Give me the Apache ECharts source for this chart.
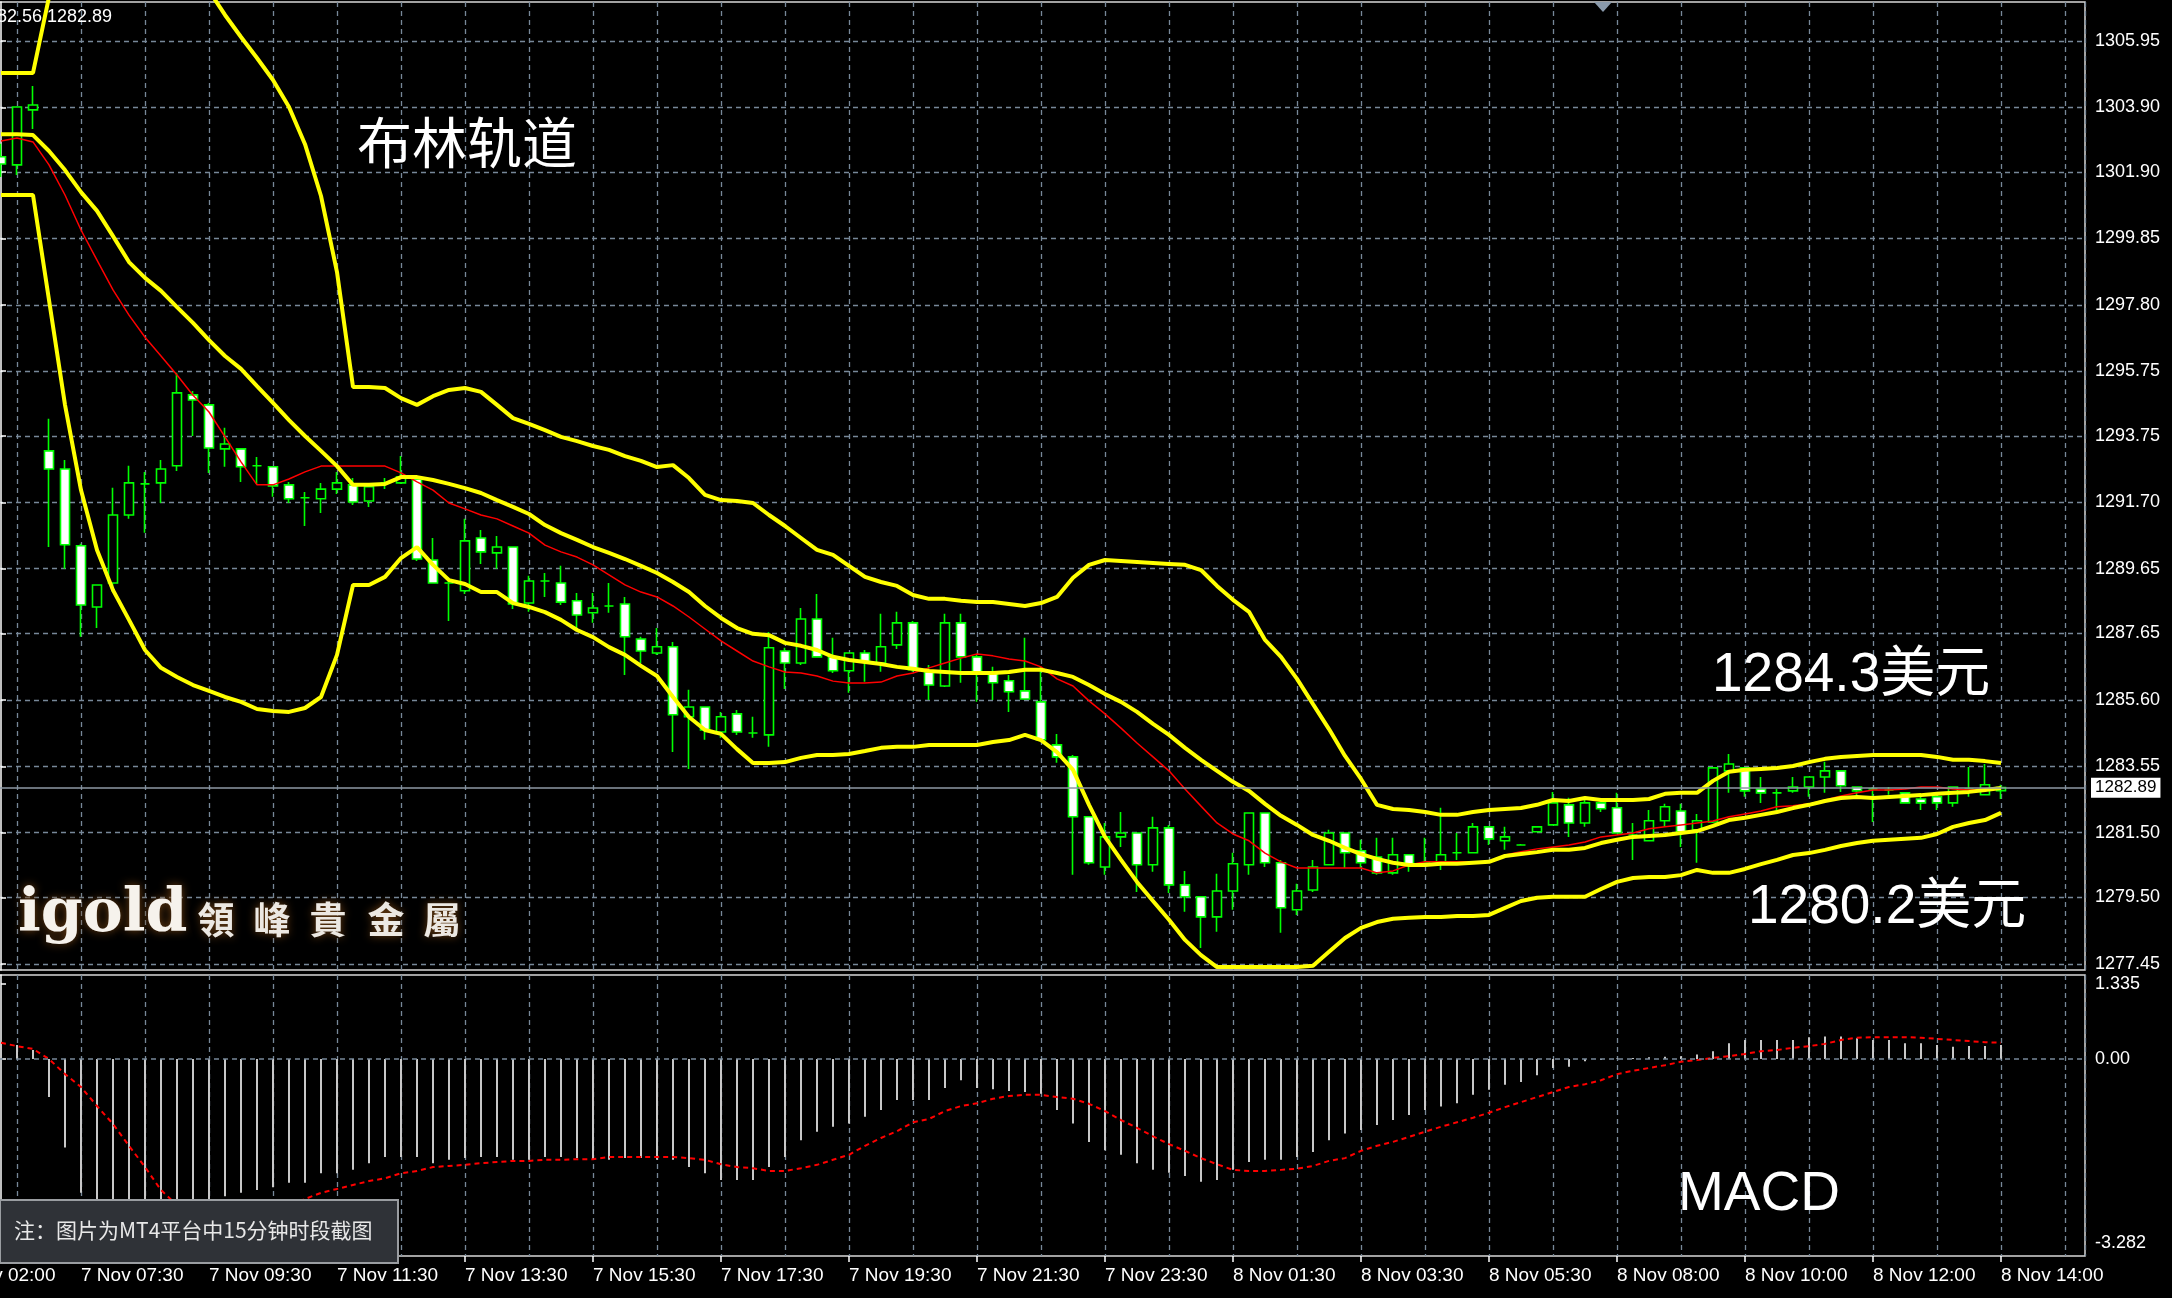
<!DOCTYPE html>
<html><head><meta charset="utf-8">
<script src="https://cdn.jsdelivr.net/npm/echarts@6/dist/echarts.min.js"></script>
<style>html,body{margin:0;padding:0;background:#000;overflow:hidden}#c{width:2172px;height:1298px}</style>
</head><body><div id="c"></div>
<script>
// ---- price bars (15-minute candles), index 0..125 ----
const opens = [
1302.37,1302.12,1303.82,1293.29,1292.73,1290.36,1288.47,1289.21,1291.31,1292.27,
1292.30,1292.83,1295.02,1294.71,1293.35,1293.35,1292.83,1292.80,1292.24,1291.84,
1291.81,1292.11,1292.24,1291.74,1292.30,1292.30,1292.42,1289.92,1289.21,1288.97,
1290.60,1290.14,1290.32,1288.59,1289.27,1289.21,1288.66,1288.29,1288.50,1288.56,
1287.48,1287.05,1287.24,1285.08,1285.38,1284.61,1285.17,1284.58,1284.52,1287.11,
1286.74,1288.10,1286.93,1286.50,1287.05,1286.74,1287.30,1287.98,1286.47,1286.03,
1287.98,1286.93,1286.43,1286.19,1285.88,1285.54,1284.21,1283.84,1281.99,1280.44,
1281.37,1281.49,1280.51,1281.65,1279.89,1279.52,1278.90,1279.70,1280.51,1282.11,
1280.57,1279.12,1279.73,1280.51,1281.49,1280.94,1280.75,1280.26,1280.82,1280.54,
1280.60,1280.88,1280.88,1281.68,1281.25,1281.12,1281.53,1281.74,1282.36,1281.80,
1282.42,1282.27,1281.43,1281.25,1281.87,1282.17,1281.59,1281.83,1283.41,1283.50,
1282.85,1282.73,1282.79,1282.91,1283.22,1283.41,1282.91,1282.85,1282.82,1282.73,
1282.54,1282.61,1282.42,1282.85,1282.67,1282.80];
const closes = [
1302.15,1303.91,1303.97,1292.73,1290.39,1288.53,1289.15,1291.31,1292.30,1292.27,
1292.73,1295.08,1294.86,1293.38,1293.50,1292.80,1292.83,1292.21,1291.81,1291.84,
1292.11,1292.30,1291.71,1292.18,1292.30,1292.49,1289.95,1289.21,1289.21,1290.51,
1290.17,1290.32,1288.56,1289.27,1289.27,1288.62,1288.22,1288.44,1288.50,1287.55,
1287.11,1287.24,1285.14,1285.38,1284.67,1285.08,1284.61,1284.58,1287.21,1286.74,
1288.10,1286.93,1286.50,1287.05,1286.77,1287.24,1287.98,1286.53,1286.06,1287.98,
1286.93,1286.43,1286.13,1285.85,1285.63,1284.37,1283.84,1281.99,1280.57,1281.37,
1281.49,1280.51,1281.65,1279.89,1279.52,1278.90,1279.70,1280.54,1282.11,1280.57,
1279.18,1279.70,1280.44,1281.49,1280.88,1280.57,1280.26,1280.82,1280.51,1280.57,
1280.82,1280.88,1281.68,1281.31,1281.37,1281.12,1281.68,1282.42,1281.80,1282.42,
1282.24,1281.49,1281.43,1281.87,1282.30,1281.53,1281.87,1283.50,1283.62,1282.79,
1282.73,1282.73,1282.91,1283.22,1283.41,1282.95,1282.79,1282.85,1282.82,1282.42,
1282.42,1282.42,1282.91,1282.85,1282.98,1282.89];
const highs = [
1302.77,1303.91,1304.56,1294.28,1293.01,1290.42,1289.15,1292.15,1292.83,1292.64,
1293.01,1295.70,1295.14,1294.77,1294.00,1293.35,1293.10,1292.80,1292.33,1292.02,
1292.30,1292.64,1292.45,1292.30,1292.45,1293.13,1292.52,1290.60,1289.37,1291.19,
1290.85,1290.66,1290.32,1289.43,1289.52,1289.74,1288.90,1288.90,1289.21,1288.78,
1287.55,1287.82,1287.39,1285.91,1285.38,1285.23,1285.29,1285.08,1287.70,1287.21,
1288.44,1288.87,1287.52,1287.05,1287.14,1288.26,1288.32,1288.04,1286.68,1288.26,
1288.26,1286.99,1286.62,1286.37,1287.52,1286.62,1284.55,1283.90,1281.99,1281.80,
1282.14,1281.49,1281.99,1281.74,1280.32,1279.52,1280.23,1280.88,1282.11,1282.11,
1280.66,1279.92,1280.66,1281.59,1281.49,1281.28,1281.34,1281.34,1280.82,1281.34,
1282.27,1281.49,1281.80,1281.71,1281.68,1281.15,1281.68,1282.76,1282.58,1282.51,
1282.42,1282.73,1281.80,1282.20,1282.39,1282.39,1282.08,1283.50,1283.93,1283.50,
1283.22,1282.85,1283.22,1283.22,1283.69,1283.41,1282.91,1282.91,1282.91,1282.73,
1282.61,1282.73,1282.91,1283.53,1283.62,1282.98];
const lows = [
1301.75,1301.81,1303.23,1290.32,1289.65,1287.55,1287.82,1288.93,1291.19,1290.76,
1291.68,1292.67,1293.75,1292.61,1292.80,1292.33,1292.27,1291.87,1291.68,1290.97,
1291.37,1291.96,1291.62,1291.56,1292.11,1292.27,1289.89,1289.21,1288.04,1288.87,
1289.80,1289.65,1288.41,1288.32,1288.78,1288.53,1287.73,1287.98,1288.29,1286.37,
1286.74,1286.99,1283.99,1283.47,1284.37,1284.43,1284.52,1284.43,1284.15,1285.94,
1286.68,1286.93,1286.43,1285.82,1286.16,1286.47,1287.17,1286.47,1285.60,1286.00,
1286.13,1285.54,1285.60,1285.23,1285.63,1284.37,1283.66,1280.20,1280.51,1280.20,
1281.06,1279.67,1280.29,1279.64,1279.06,1277.94,1278.44,1279.12,1280.20,1280.44,
1278.41,1278.96,1279.67,1280.51,1280.41,1280.41,1280.20,1280.20,1280.29,1280.51,
1280.35,1280.66,1280.88,1281.12,1280.97,1281.12,1281.53,1281.74,1281.37,1281.68,
1282.14,1281.49,1280.66,1281.25,1281.68,1281.06,1280.57,1281.80,1282.73,1282.61,
1282.42,1282.14,1282.73,1282.61,1282.73,1282.76,1282.61,1281.83,1282.67,1282.39,
1282.20,1282.20,1282.30,1282.61,1282.67,1282.54];

// ---- Bollinger bands (yellow) and moving average (red) ----
const upperBand = [
1304.96,1304.96,1304.96,1307.3,1309.2,1310.5,1311.2,1310.9,1310.2,1310.1,
1309.9,1309.2,1308.4,1307.5,1306.75,1306.07,1305.42,1304.74,1303.91,1302.76,
1301.16,1298.81,1295.26,1295.26,1295.23,1294.92,1294.71,1294.98,1295.17,1295.23,
1295.11,1294.71,1294.30,1294.12,1293.93,1293.72,1293.59,1293.44,1293.32,1293.13,
1292.98,1292.79,1292.85,1292.45,1291.93,1291.77,1291.74,1291.68,1291.31,1290.97,
1290.60,1290.23,1290.08,1289.74,1289.40,1289.24,1289.12,1288.84,1288.72,1288.72,
1288.66,1288.62,1288.62,1288.56,1288.50,1288.59,1288.78,1289.37,1289.77,1289.92,
1289.89,1289.86,1289.83,1289.80,1289.77,1289.61,1289.12,1288.69,1288.32,1287.45,
1286.93,1286.25,1285.47,1284.70,1283.87,1283.16,1282.36,1282.23,1282.20,1282.14,
1282.05,1282.05,1282.14,1282.20,1282.23,1282.26,1282.36,1282.51,1282.48,1282.57,
1282.51,1282.51,1282.51,1282.54,1282.70,1282.73,1282.73,1283.10,1283.38,1283.44,
1283.47,1283.50,1283.56,1283.68,1283.78,1283.84,1283.87,1283.90,1283.90,1283.90,
1283.90,1283.84,1283.75,1283.75,1283.71,1283.65];
const middleBand = [
1303.07,1303.07,1303.04,1302.55,1301.96,1301.28,1300.70,1299.92,1299.12,1298.63,
1298.23,1297.73,1297.24,1296.71,1296.22,1295.82,1295.29,1294.77,1294.24,1293.75,
1293.29,1292.82,1292.24,1292.24,1292.27,1292.48,1292.48,1292.39,1292.27,1292.14,
1291.99,1291.77,1291.56,1291.34,1291.00,1290.75,1290.54,1290.32,1290.14,1289.95,
1289.74,1289.52,1289.24,1288.93,1288.50,1288.13,1287.82,1287.64,1287.60,1287.36,
1287.27,1287.14,1286.93,1286.83,1286.77,1286.71,1286.62,1286.56,1286.49,1286.46,
1286.43,1286.43,1286.43,1286.46,1286.53,1286.53,1286.43,1286.31,1286.06,1285.78,
1285.54,1285.23,1284.86,1284.52,1284.12,1283.75,1283.41,1283.07,1282.79,1282.39,
1282.02,1281.74,1281.43,1281.25,1281.03,1280.84,1280.69,1280.57,1280.50,1280.50,
1280.54,1280.54,1280.57,1280.60,1280.78,1280.84,1280.90,1280.97,1280.97,1281.03,
1281.18,1281.28,1281.37,1281.40,1281.43,1281.49,1281.55,1281.71,1281.89,1281.96,
1282.05,1282.14,1282.26,1282.36,1282.48,1282.57,1282.60,1282.57,1282.60,1282.63,
1282.66,1282.70,1282.73,1282.76,1282.82,1282.88];
const lowerBand = [
1301.19,1301.19,1301.19,1297.95,1294.71,1292.08,1290.23,1288.99,1288.07,1287.14,
1286.59,1286.31,1286.06,1285.88,1285.69,1285.54,1285.32,1285.26,1285.23,1285.35,
1285.69,1286.99,1289.15,1289.15,1289.40,1289.98,1290.32,1289.77,1289.30,1289.18,
1288.93,1288.93,1288.59,1288.47,1288.31,1288.07,1287.76,1287.54,1287.23,1286.99,
1286.65,1286.34,1285.69,1285.07,1284.67,1284.55,1284.08,1283.65,1283.65,1283.68,
1283.81,1283.90,1283.90,1283.93,1284.02,1284.12,1284.15,1284.15,1284.21,1284.21,
1284.21,1284.21,1284.30,1284.36,1284.52,1284.36,1283.99,1283.44,1282.36,1281.37,
1280.66,1279.98,1279.39,1278.81,1278.19,1277.72,1277.35,1277.35,1277.35,1277.35,
1277.35,1277.35,1277.39,1277.82,1278.25,1278.56,1278.74,1278.84,1278.87,1278.90,
1278.90,1278.93,1278.93,1278.96,1279.18,1279.39,1279.49,1279.52,1279.52,1279.52,
1279.76,1279.98,1280.10,1280.13,1280.13,1280.19,1280.35,1280.26,1280.26,1280.38,
1280.53,1280.66,1280.81,1280.87,1280.97,1281.09,1281.18,1281.25,1281.28,1281.31,
1281.34,1281.46,1281.68,1281.80,1281.89,1282.11];
const movingAvg = [
1302.86,1302.95,1302.83,1302.12,1301.19,1300.11,1299.18,1298.26,1297.48,1296.80,
1296.22,1295.63,1295.01,1294.49,1293.72,1292.95,1292.24,1292.24,1292.42,1292.64,
1292.82,1292.82,1292.82,1292.82,1292.82,1292.61,1292.33,1292.08,1291.68,1291.50,
1291.31,1291.19,1290.97,1290.75,1290.38,1290.17,1290.01,1289.77,1289.46,1289.15,
1288.93,1288.78,1288.50,1288.16,1287.79,1287.42,1287.11,1286.80,1286.62,1286.46,
1286.43,1286.34,1286.18,1286.12,1286.12,1286.15,1286.34,1286.43,1286.59,1286.74,
1286.89,1287.02,1286.96,1286.86,1286.80,1286.62,1286.25,1286.03,1285.57,1285.17,
1284.73,1284.27,1283.84,1283.41,1282.85,1282.32,1281.80,1281.46,1281.25,1280.87,
1280.60,1280.41,1280.41,1280.41,1280.41,1280.41,1280.26,1280.32,1280.50,1280.60,
1280.60,1280.60,1280.60,1280.60,1280.81,1280.91,1281.00,1281.06,1281.12,1281.21,
1281.37,1281.43,1281.49,1281.62,1281.68,1281.74,1281.80,1281.86,1281.99,1282.08,
1282.17,1282.30,1282.33,1282.39,1282.51,1282.63,1282.73,1282.82,1282.82,1282.85,
1282.91,1282.91,1282.85,1282.82,1282.85,1282.88];

// ---- MACD sub-window ----
const macdHist = [
0.30,0.25,0.16,-0.68,-1.58,-2.39,-2.90,-3.15,-3.28,-3.20,
-3.05,-2.90,-2.75,-2.60,-2.45,-2.39,-2.34,-2.29,-2.21,-2.21,
-2.04,-2.04,-1.98,-1.86,-1.75,-1.75,-1.75,-1.86,-1.80,-1.77,
-1.75,-1.75,-1.80,-1.80,-1.75,-1.75,-1.77,-1.80,-1.80,-1.77,
-1.77,-1.80,-1.80,-1.93,-2.04,-2.16,-2.16,-2.16,-1.93,-1.75,
-1.45,-1.30,-1.21,-1.15,-1.03,-0.91,-0.73,-0.73,-0.73,-0.52,
-0.38,-0.52,-0.54,-0.57,-0.59,-0.62,-0.91,-1.15,-1.48,-1.63,
-1.71,-1.86,-1.98,-2.03,-2.09,-2.19,-2.16,-1.98,-1.84,-1.80,
-1.80,-1.75,-1.66,-1.45,-1.33,-1.27,-1.18,-1.09,-1.00,-0.91,
-0.85,-0.79,-0.64,-0.55,-0.46,-0.41,-0.29,-0.16,-0.14,-0.04,
-0.02,0.01,0.02,0.03,0.04,0.05,0.08,0.14,0.28,0.34,
0.34,0.34,0.34,0.39,0.40,0.40,0.37,0.34,0.34,0.28,
0.28,0.25,0.22,0.23,0.23,0.25];
const macdSignal = [
0.29,0.23,0.18,0.00,-0.27,-0.50,-0.84,-1.16,-1.55,-1.93,
-2.34,-2.61,-2.79,-2.91,-2.96,-2.95,-2.88,-2.77,-2.63,-2.50,
-2.39,-2.32,-2.25,-2.18,-2.13,-2.04,-2.00,-1.93,-1.91,-1.89,
-1.86,-1.84,-1.82,-1.82,-1.80,-1.80,-1.79,-1.79,-1.75,-1.75,
-1.75,-1.75,-1.75,-1.77,-1.80,-1.88,-1.93,-1.95,-2.00,-2.00,
-1.95,-1.89,-1.80,-1.71,-1.55,-1.41,-1.29,-1.13,-1.07,-0.93,
-0.84,-0.79,-0.71,-0.66,-0.64,-0.64,-0.68,-0.71,-0.80,-0.93,
-1.09,-1.23,-1.38,-1.52,-1.64,-1.77,-1.88,-1.98,-2.00,-2.00,
-1.98,-1.96,-1.91,-1.82,-1.77,-1.64,-1.55,-1.48,-1.39,-1.30,
-1.21,-1.13,-1.05,-0.96,-0.86,-0.77,-0.68,-0.59,-0.50,-0.45,
-0.38,-0.27,-0.21,-0.16,-0.11,-0.05,-0.02,0.02,0.05,0.09,
0.14,0.16,0.20,0.23,0.27,0.34,0.38,0.39,0.39,0.39,
0.38,0.36,0.34,0.32,0.30,0.29];

// ---- axis labels ----
const timeLabels = ['7 Nov 02:00','7 Nov 07:30','7 Nov 09:30','7 Nov 11:30','7 Nov 13:30','7 Nov 15:30',
  '7 Nov 17:30','7 Nov 19:30','7 Nov 21:30','7 Nov 23:30','8 Nov 01:30','8 Nov 03:30','8 Nov 05:30',
  '8 Nov 08:00','8 Nov 10:00','8 Nov 12:00','8 Nov 14:00'];
const timeLabelStart = -3;   // bar index of the first time label
const timeLabelStep = 8;     // bars between time labels
const priceLabels = ['1277.45','1279.50','1281.50','1283.55','1285.60','1287.65','1289.65','1291.70',
  '1293.75','1295.75','1297.80','1299.85','1301.90','1303.90','1305.95'];
const macdLabels = ['1.335','0.00','-3.282'];
const headerText = '1282.56 1282.89';

// ---------------------------------------------------------------
const chart = echarts.init(document.getElementById('c'), null, {renderer: 'canvas'});
const pair = a => a.map((v, i) => [i, v]);
const candleData = opens.map((o, i) => [i, o, closes[i], lows[i], highs[i]]);
const priceTickValues = priceLabels.map(Number);
const macdTickValues = macdLabels.map(Number);
const timeTickValues = timeLabels.map((_, k) => timeLabelStart + k * timeLabelStep);
const lastPrice = closes[closes.length - 1];

const gridLine = {color: '#778899', width: 1.3, type: [5, 4]};
const FONT = '"Liberation Sans", Arial, sans-serif';
const CJK = '"Noto Sans CJK SC", "Noto Sans", sans-serif';
const XMIN = -3, XMAX = 130.25;

const option = {
  backgroundColor: '#000',
  animation: false,
  grid: [
    {left: -47, right: 87, top: 2, height: 968, show: true, borderColor: '#d8d8d8', borderWidth: 1.5,
     containLabel: false, outerBoundsMode: 'none'},
    {left: -47, right: 87, top: 975, height: 281, show: true, borderColor: '#d8d8d8', borderWidth: 1.5,
     containLabel: false, outerBoundsMode: 'none'}
  ],
  xAxis: [
    {gridIndex: 0, type: 'value', min: XMIN, max: XMAX, interval: 4,
     axisLine: {show: false}, axisTick: {show: false}, axisLabel: {show: false},
     splitLine: {show: true, lineStyle: gridLine}},
    {gridIndex: 1, type: 'value', min: XMIN, max: XMAX, interval: 4,
     axisLine: {show: false}, axisTick: {show: false}, axisLabel: {show: false},
     splitLine: {show: true, lineStyle: gridLine}},
    {gridIndex: 1, type: 'value', position: 'bottom', min: XMIN, max: XMAX,
     axisLine: {show: false},
     axisTick: {show: true, customValues: timeTickValues, length: 6, lineStyle: {color: '#ffffff', width: 1.5}},
     axisLabel: {show: true, customValues: timeTickValues, color: '#ffffff', fontSize: 19, fontFamily: FONT,
       align: 'left', margin: 10,
       formatter: v => timeLabels[Math.round((v - timeLabelStart) / timeLabelStep)] || ''},
     splitLine: {show: false}}
  ],
  yAxis: [
    {gridIndex: 0, type: 'value', position: 'right', min: 1277.26, max: 1307.15,
     axisLine: {show: true, lineStyle: {color: '#ffffff', width: 1.5}},
     axisTick: {show: true, customValues: priceTickValues, length: 5, lineStyle: {color: '#ffffff', width: 1.5}},
     axisLabel: {show: true, customValues: priceTickValues, color: '#ffffff', fontSize: 18, fontFamily: FONT, margin: 10,
       formatter: v => v.toFixed(2)},
     splitLine: {show: true, lineStyle: gridLine}},
    {gridIndex: 1, type: 'value', position: 'right', min: -3.518, max: 1.5,
     axisLine: {show: true, lineStyle: {color: '#ffffff', width: 1.5}},
     axisTick: {show: true, customValues: macdTickValues, length: 5, lineStyle: {color: '#ffffff', width: 1.5}},
     axisLabel: {show: true, customValues: macdTickValues, color: '#ffffff', fontSize: 18, fontFamily: FONT, margin: 10,
       formatter: v => macdLabels[macdTickValues.indexOf(v)]},
     splitLine: {show: false}}
  ],
  series: [
    {type: 'candlestick', xAxisIndex: 0, yAxisIndex: 0, data: candleData, barWidth: 9,
     itemStyle: {color: '#000000', color0: '#ffffff', borderColor: '#00ff00', borderColor0: '#00ff00',
       borderColorDoji: '#00ff00', borderWidth: 1.6},
     markLine: {silent: true, symbol: 'none', animation: false,
       lineStyle: {color: '#8e99a5', width: 1.6, type: 'solid'},
       label: {show: true, position: 'end', distance: 6, formatter: () => lastPrice.toFixed(2),
         color: '#000', backgroundColor: '#ffffff', padding: [2, 4, 1, 4], fontSize: 17, fontFamily: FONT},
       data: [{yAxis: lastPrice}]}},
    {type: 'line', xAxisIndex: 0, yAxisIndex: 0, data: pair(movingAvg), symbol: 'none',
     lineStyle: {color: '#ff0000', width: 1.5}},
    {type: 'line', xAxisIndex: 0, yAxisIndex: 0, data: pair(upperBand), symbol: 'none',
     lineStyle: {color: '#ffff00', width: 4}},
    {type: 'line', xAxisIndex: 0, yAxisIndex: 0, data: pair(middleBand), symbol: 'none',
     lineStyle: {color: '#ffff00', width: 4}},
    {type: 'line', xAxisIndex: 0, yAxisIndex: 0, data: pair(lowerBand), symbol: 'none',
     lineStyle: {color: '#ffff00', width: 4}},
    {type: 'bar', xAxisIndex: 1, yAxisIndex: 1, data: pair(macdHist), barWidth: 2,
     itemStyle: {color: '#c8c8c8'},
     markLine: {silent: true, symbol: 'none', animation: false, label: {show: false},
       lineStyle: {color: '#778899', width: 1.5, type: [5, 4]}, data: [{yAxis: 0}]}},
    {type: 'line', xAxisIndex: 1, yAxisIndex: 1, data: pair(macdSignal), symbol: 'none',
     lineStyle: {color: '#ff0000', width: 2, type: [5, 4]}}
  ],
  graphic: [
    {type: 'polygon', z: 100, shape: {points: [[1594, 2], [1612, 2], [1603, 12]]}, style: {fill: '#8a9aab'}},
    {type: 'text', z: 100, x: 112, y: 17, style: {text: headerText, fill: '#ffffff', fontSize: 18, fontFamily: FONT, align: 'right', verticalAlign: 'middle'}},
    {type: 'text', z: 100, x: 357, y: 142, style: {text: '布林轨道', fill: '#ffffff', fontSize: 55, fontFamily: CJK, align: 'left', verticalAlign: 'middle'}},
    {type: 'text', z: 100, x: 1712, y: 676, style: {text: '1284.3美元', fill: '#ffffff', fontSize: 55, fontFamily: '"Liberation Sans", "Noto Sans CJK SC", sans-serif', align: 'left', verticalAlign: 'middle'}},
    {type: 'text', z: 100, x: 1748, y: 908, style: {text: '1280.2美元', fill: '#ffffff', fontSize: 55, fontFamily: '"Liberation Sans", "Noto Sans CJK SC", sans-serif', align: 'left', verticalAlign: 'middle'}},
    {type: 'text', z: 100, x: 1678, y: 1195, style: {text: 'MACD', fill: '#ffffff', fontSize: 55, fontFamily: FONT, align: 'left', verticalAlign: 'middle'}},
    {type: 'text', z: 100, x: 18, y: 915, style: {text: 'igold', fill: '#f6f2ec', fontSize: 60, fontWeight: 'bold', fontFamily: '"DejaVu Serif", "Liberation Serif", serif', align: 'left', verticalAlign: 'middle', textShadowColor: 'rgba(120,70,20,0.95)', textShadowBlur: 10}},
    {type: 'text', z: 100, x: 216, y: 920, style: {text: '領', fill: '#ece8e2', fontSize: 37, fontWeight: 'bold', fontFamily: '"Noto Sans CJK TC", sans-serif', align: 'center', verticalAlign: 'middle', textShadowColor: 'rgba(120,70,20,0.95)', textShadowBlur: 8}},
    {type: 'text', z: 100, x: 272, y: 920, style: {text: '峰', fill: '#ece8e2', fontSize: 37, fontWeight: 'bold', fontFamily: '"Noto Sans CJK TC", sans-serif', align: 'center', verticalAlign: 'middle', textShadowColor: 'rgba(120,70,20,0.95)', textShadowBlur: 8}},
    {type: 'text', z: 100, x: 328, y: 920, style: {text: '貴', fill: '#ece8e2', fontSize: 37, fontWeight: 'bold', fontFamily: '"Noto Sans CJK TC", sans-serif', align: 'center', verticalAlign: 'middle', textShadowColor: 'rgba(120,70,20,0.95)', textShadowBlur: 8}},
    {type: 'text', z: 100, x: 386, y: 920, style: {text: '金', fill: '#ece8e2', fontSize: 37, fontWeight: 'bold', fontFamily: '"Noto Sans CJK TC", sans-serif', align: 'center', verticalAlign: 'middle', textShadowColor: 'rgba(120,70,20,0.95)', textShadowBlur: 8}},
    {type: 'text', z: 100, x: 442, y: 920, style: {text: '屬', fill: '#ece8e2', fontSize: 37, fontWeight: 'bold', fontFamily: '"Noto Sans CJK TC", sans-serif', align: 'center', verticalAlign: 'middle', textShadowColor: 'rgba(120,70,20,0.95)', textShadowBlur: 8}},
    {type: 'rect', z: 100, shape: {x: 0, y: 1200, width: 398, height: 63}, style: {fill: '#2f3237', stroke: '#9a9da1', lineWidth: 2}},
    {type: 'text', z: 101, x: 14, y: 1230, style: {text: '注：图片为MT4平台中15分钟时段截图', fill: '#e8e8e8', fontSize: 21, fontFamily: CJK, align: 'left', verticalAlign: 'middle'}}
  ]
};
chart.setOption(option);
</script></body></html>
